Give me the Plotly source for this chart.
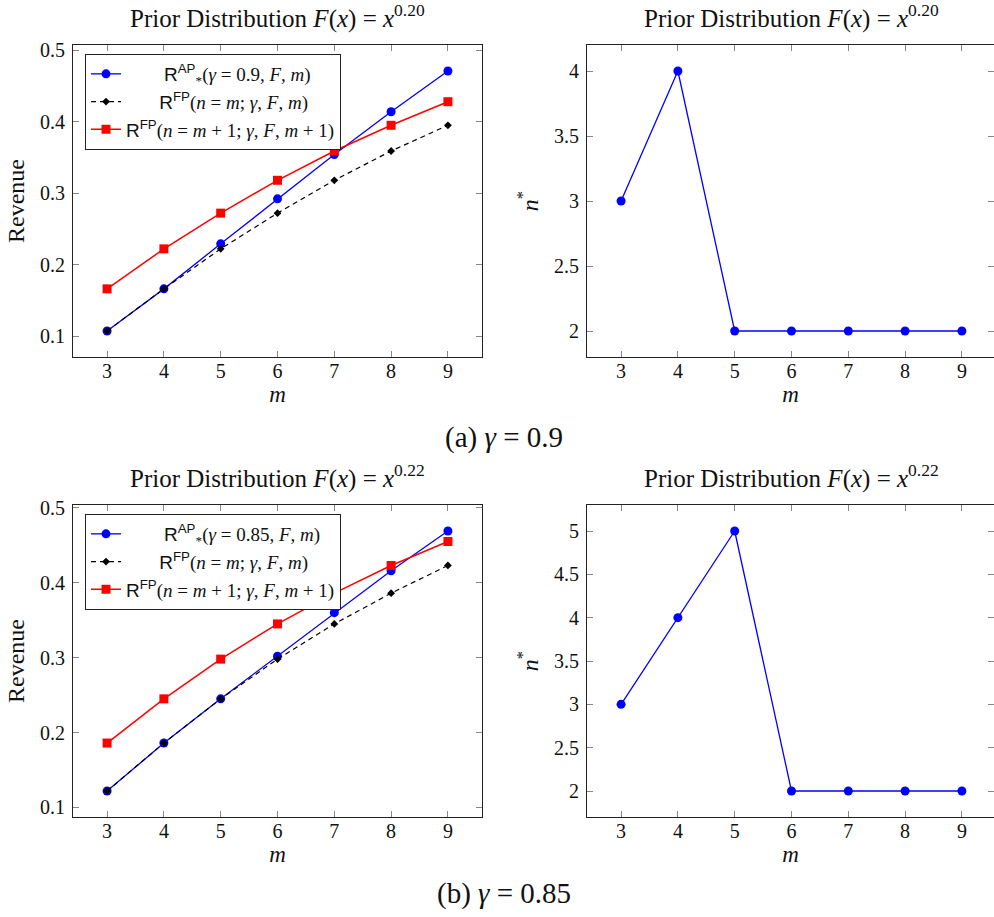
import plotly.graph_objects as go

# ---------------- data ----------------
m_vals = [3, 4, 5, 6, 7, 8, 9]

# (a) gamma = 0.9, F(x) = x^0.20
a_rev_ap = [0.107, 0.166, 0.229, 0.292, 0.354, 0.414, 0.471]
a_rev_fp_m = [0.107, 0.166, 0.222, 0.272, 0.318, 0.359, 0.395]
a_rev_fp_m1 = [0.166, 0.222, 0.272, 0.318, 0.359, 0.395, 0.428]
a_nstar = [3, 4, 2, 2, 2, 2, 2]

# (b) gamma = 0.85, F(x) = x^0.22
b_rev_ap = [0.122, 0.186, 0.245, 0.302, 0.360, 0.416, 0.469]
b_rev_fp_m = [0.122, 0.186, 0.245, 0.298, 0.345, 0.386, 0.423]
b_rev_fp_m1 = [0.186, 0.245, 0.298, 0.345, 0.386, 0.423, 0.455]
b_nstar = [3, 4, 5, 2, 2, 2, 2]

titles = ["Prior Distribution <i>F</i>(<i>x</i>) = <i>x</i><sup>0.20</sup>",
          "Prior Distribution <i>F</i>(<i>x</i>) = <i>x</i><sup>0.22</sup>"]
captions = ["(a) <i>γ</i> = 0.9", "(b) <i>γ</i> = 0.85"]
gammas = ["0.9", "0.85"]

# ---------------- style ----------------
OFF = 0                      # body margin removed by post_script below
W, H = 994 - OFF, 917 - OFF
SERIF = "Liberation Serif"
SANS = "Liberation Sans"
BLUE = "#0000ff"
RED = "#ff0000"
BLACK = "#000000"
TXT = "#111"
FS = 20


def px_x(p):
    return min(max((p - OFF) / W, 0.0), 1.0)


def px_y(p):
    return min(max(1 - (p - OFF) / H, 0.0), 1.0)


fig = go.Figure()

panels = [
    # (xaxis id, yaxis id, x extent px, y extent px) in window pixels
    ("x", "y", (73, 482), (45, 357)),
    ("x2", "y2", (587, 994), (45, 357)),
    ("x3", "y3", (73, 482), (505, 817)),
    ("x4", "y4", (587, 994), (505, 817)),
]

NB = "\u00a0"


def sans(t):
    return f'<span style="font-family:{SANS}">{t}</span>'


def add_revenue(ax, ay, ap, fpm, fpm1, gamma, legend):
    pad1 = NB * 8
    pad2 = NB * 7
    fig.add_trace(go.Scatter(
        x=m_vals, y=ap, xaxis=ax, yaxis=ay, mode="lines+markers",
        name=pad1 + sans("R<sup>AP</sup>") + "<sub>*</sub>(<i>γ</i> = " + gamma + ", <i>F</i>, <i>m</i>)",
        line=dict(color=BLUE, width=1.3),
        marker=dict(symbol="circle", size=9, color=BLUE),
        legend=legend))
    fig.add_trace(go.Scatter(
        x=m_vals, y=fpm, xaxis=ax, yaxis=ay, mode="lines+markers",
        name=pad2 + sans("R<sup>FP</sup>") + "(<i>n</i> = <i>m</i>; <i>γ</i>, <i>F</i>, <i>m</i>)",
        line=dict(color=BLACK, width=1.2, dash="5px,4px"),
        marker=dict(symbol="diamond", size=6, color=BLACK),
        legend=legend))
    fig.add_trace(go.Scatter(
        x=m_vals, y=fpm1, xaxis=ax, yaxis=ay, mode="lines+markers",
        name=sans("R<sup>FP</sup>") + "(<i>n</i> = <i>m</i> + 1; <i>γ</i>, <i>F</i>, <i>m</i> + 1)",
        line=dict(color=RED, width=1.5),
        marker=dict(symbol="square", size=9, color=RED),
        legend=legend))


def add_nstar(ax, ay, ns):
    fig.add_trace(go.Scatter(
        x=m_vals, y=ns, xaxis=ax, yaxis=ay, mode="lines+markers",
        line=dict(color=BLUE, width=1.3),
        marker=dict(symbol="circle", size=9, color=BLUE),
        showlegend=False))


add_revenue("x", "y", a_rev_ap, a_rev_fp_m, a_rev_fp_m1, gammas[0], "legend")
add_nstar("x2", "y2", a_nstar)
add_revenue("x3", "y3", b_rev_ap, b_rev_fp_m, b_rev_fp_m1, gammas[1], "legend2")
add_nstar("x4", "y4", b_nstar)

common_axis = dict(
    showline=True, linecolor="#222", linewidth=1.2, mirror="ticks",
    ticks="inside", ticklen=6, tickwidth=1, tickcolor="#888",
    showgrid=False, zeroline=False, automargin=False,
    tickfont=dict(family=SERIF, size=FS, color=TXT),
)

yranges = [[0.0706, 0.5074], [1.8, 4.2], [0.0873, 0.5037], [1.7, 5.3]]
yticks = [[0.1, 0.2, 0.3, 0.4, 0.5], [2, 2.5, 3, 3.5, 4],
          [0.1, 0.2, 0.3, 0.4, 0.5], [2, 2.5, 3, 3.5, 4, 4.5, 5]]
ytitles = ["Revenue", "<i>n</i><sup>*</sup>", "Revenue", "<i>n</i><sup>*</sup>"]
xranges = [[2.4, 9.6], [2.4, 9.565], [2.4, 9.6], [2.4, 9.565]]

layout = {}
for i, (ax, ay, (x0, x1), (y0, y1)) in enumerate(panels):
    xname = "xaxis" if ax == "x" else "xaxis" + ax[1:]
    yname = "yaxis" if ay == "y" else "yaxis" + ay[1:]
    layout[xname] = dict(common_axis, domain=[px_x(x0), px_x(x1)],
                         anchor=ay, range=xranges[i], tickvals=m_vals,
                         ticklabelstandoff=-4,
                         title=dict(text="<i>m</i>", standoff=0,
                                    font=dict(family=SERIF, size=FS + 3, color=TXT)))
    layout[yname] = dict(common_axis, domain=[px_y(y1), px_y(y0)],
                         anchor=ax, range=yranges[i], tickvals=yticks[i],
                         ticklabelstandoff=3,
                         title=dict(text=ytitles[i], standoff=8,
                                    font=dict(family=SERIF, size=FS + 4, color=TXT)))

fig.update_layout(**layout)

ann = []
for i, (ax, ay, (x0, x1), (y0, y1)) in enumerate(panels):
    cx = (x0 + x1) / 2 if i % 2 == 0 else 791
    ann.append(dict(text=titles[i // 2], x=px_x(cx), y=px_y(y0 - 28),
                    xref="paper", yref="paper", showarrow=False,
                    xanchor="center", yanchor="middle",
                    font=dict(family=SERIF, size=25, color=TXT)))
ann.append(dict(text=captions[0], x=px_x(504), y=px_y(437), xref="paper", yref="paper",
                showarrow=False, xanchor="center", yanchor="middle",
                font=dict(family=SERIF, size=29, color=TXT)))
ann.append(dict(text=captions[1], x=px_x(504), y=px_y(893), xref="paper", yref="paper",
                showarrow=False, xanchor="center", yanchor="middle",
                font=dict(family=SERIF, size=29, color=TXT)))

legend_style = dict(
    xanchor="left", yanchor="top", bgcolor="white", bordercolor="#222", borderwidth=1,
    font=dict(family=SERIF, size=19, color=TXT), itemwidth=30,
    tracegroupgap=0,
)

fig.update_layout(
    width=W, height=H, template="none",
    paper_bgcolor="white", plot_bgcolor="white",
    margin=dict(l=0, r=0, t=0, b=0),
    annotations=ann,
    legend=dict(legend_style, x=px_x(85), y=px_y(54)),
    legend2=dict(legend_style, x=px_x(85), y=px_y(514)),
)

fig.write_html("out.html",
               config={"displayModeBar": False},
               post_script="document.body.style.margin='0px';document.body.style.overflow='hidden';")
